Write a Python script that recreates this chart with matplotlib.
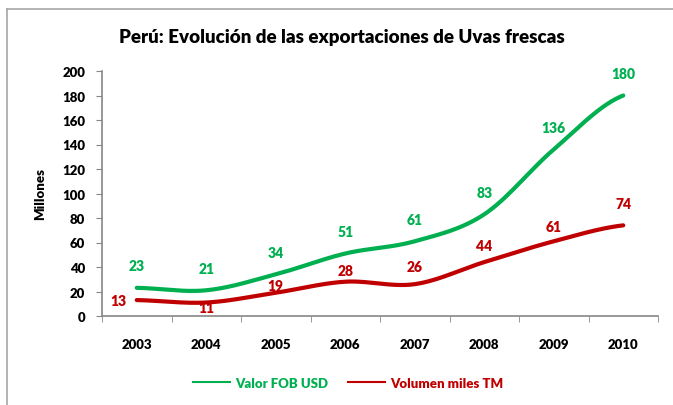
import numpy as np
import matplotlib
matplotlib.use("Agg")
import matplotlib.pyplot as plt
from matplotlib.lines import Line2D

plt.rcParams['font.family'] = ['Lato', 'DejaVu Sans']
WEIGHT = 'heavy'

years = ['2003', '2004', '2005', '2006', '2007', '2008', '2009', '2010']
valor_fob = [23, 21, 34, 51, 61, 83, 136, 180]
volumen = [13, 11, 19, 28, 26, 44, 61, 74]

GREEN = '#00B050'
RED = '#C00000'
GRAY = '#868686'


def smooth(xs, ys, n=30):
    # catmull-rom, roughly what excel does for "smoothed line"
    xs = np.asarray(xs, float)
    ys = np.asarray(ys, float)
    px = np.concatenate([[2 * xs[0] - xs[1]], xs, [2 * xs[-1] - xs[-2]]])
    py = np.concatenate([[ys[0]], ys, [ys[-1]]])
    outx, outy = [], []
    for i in range(1, len(px) - 2):
        t = np.linspace(0, 1, n)
        for p, out in ((px, outx), (py, outy)):
            p0, p1, p2, p3 = p[i - 1], p[i], p[i + 1], p[i + 2]
            out.extend(0.5 * ((2 * p1) + (-p0 + p2) * t +
                              (2 * p0 - 5 * p1 + 4 * p2 - p3) * t ** 2 +
                              (-p0 + 3 * p1 - 3 * p2 + p3) * t ** 3))
    return outx, outy


W, H = 673, 406
fig = plt.figure(figsize=(W / 100, H / 100), dpi=100)
ax = fig.add_axes([102 / W, 1 - 317 / H, (658 - 102) / W, (317 - 72) / H])

# outer frame of the chart area
fig.add_artist(Line2D([7 / W, 7 / W], [0, 1 - 10 / H], color='#A6A6A6', lw=1.2))
fig.add_artist(Line2D([7 / W, 1], [1 - 10 / H, 1 - 10 / H], color='#A6A6A6', lw=1.2))

x = np.arange(len(years))
sx, sy = smooth(x, valor_fob)
ax.plot(sx, sy, color=GREEN, lw=3, solid_capstyle='round')
sx, sy = smooth(x, volumen)
ax.plot(sx, sy, color=RED, lw=3, solid_capstyle='round')

# data labels, offsets in pixels
for xi, v in zip(x, valor_fob):
    ax.annotate(str(v), (xi, v), xytext=(0, 22 * 0.72), textcoords='offset points',
                ha='center', va='center', color=GREEN, fontsize=10, fontweight=WEIGHT)
red_off = [(-18, 0), (0, -5), (0, 7), (0, 11), (0, 18), (0, 17), (0, 15), (0, 22)]
for xi, v, (dx, dy) in zip(x, volumen, red_off):
    ax.annotate(str(v), (xi, v), xytext=(dx * 0.72, dy * 0.72), textcoords='offset points',
                ha='center', va='center', color=RED, fontsize=10, fontweight=WEIGHT)

ax.set_xlim(-0.5, len(years) - 0.5)
ax.set_ylim(0, 200)
ax.set_yticks(range(0, 201, 20))
ax.set_xticks(x)
ax.set_xticklabels(years)
ax.set_xticks(np.arange(-0.5, len(years)), minor=True)
ax.tick_params(axis='x', which='major', length=0, pad=16)
ax.tick_params(axis='x', which='minor', length=4, color=GRAY, direction='out')
ax.tick_params(axis='y', length=4, color=GRAY, pad=8)
for lab in ax.get_xticklabels() + ax.get_yticklabels():
    lab.set_fontweight(WEIGHT)
    lab.set_fontsize(9.5)

for s in ('top', 'right'):
    ax.spines[s].set_visible(False)
for s in ('left', 'bottom'):
    ax.spines[s].set_color(GRAY)
    ax.spines[s].set_linewidth(1.2)

ax.set_ylabel('Millones', fontsize=9.5, fontweight=WEIGHT, labelpad=12)
fig.text(342 / W, 1 - 38 / H, 'Perú: Evolución de las exportaciones de Uvas frescas',
         ha='center', va='center', fontsize=13.5, fontweight=WEIGHT)

handles = [Line2D([], [], color=GREEN, lw=1.5), Line2D([], [], color=RED, lw=1.5)]
fig.legend(handles, ['Valor FOB USD', 'Volumen miles TM'], loc='center',
           bbox_to_anchor=(348 / W, 1 - 384 / H), ncol=2, frameon=False,
           prop={'weight': WEIGHT, 'size': 9.5}, labelcolor='linecolor',
           handlelength=2.8, handletextpad=0.4, columnspacing=1.5)

fig.savefig('out.png', dpi=100)
